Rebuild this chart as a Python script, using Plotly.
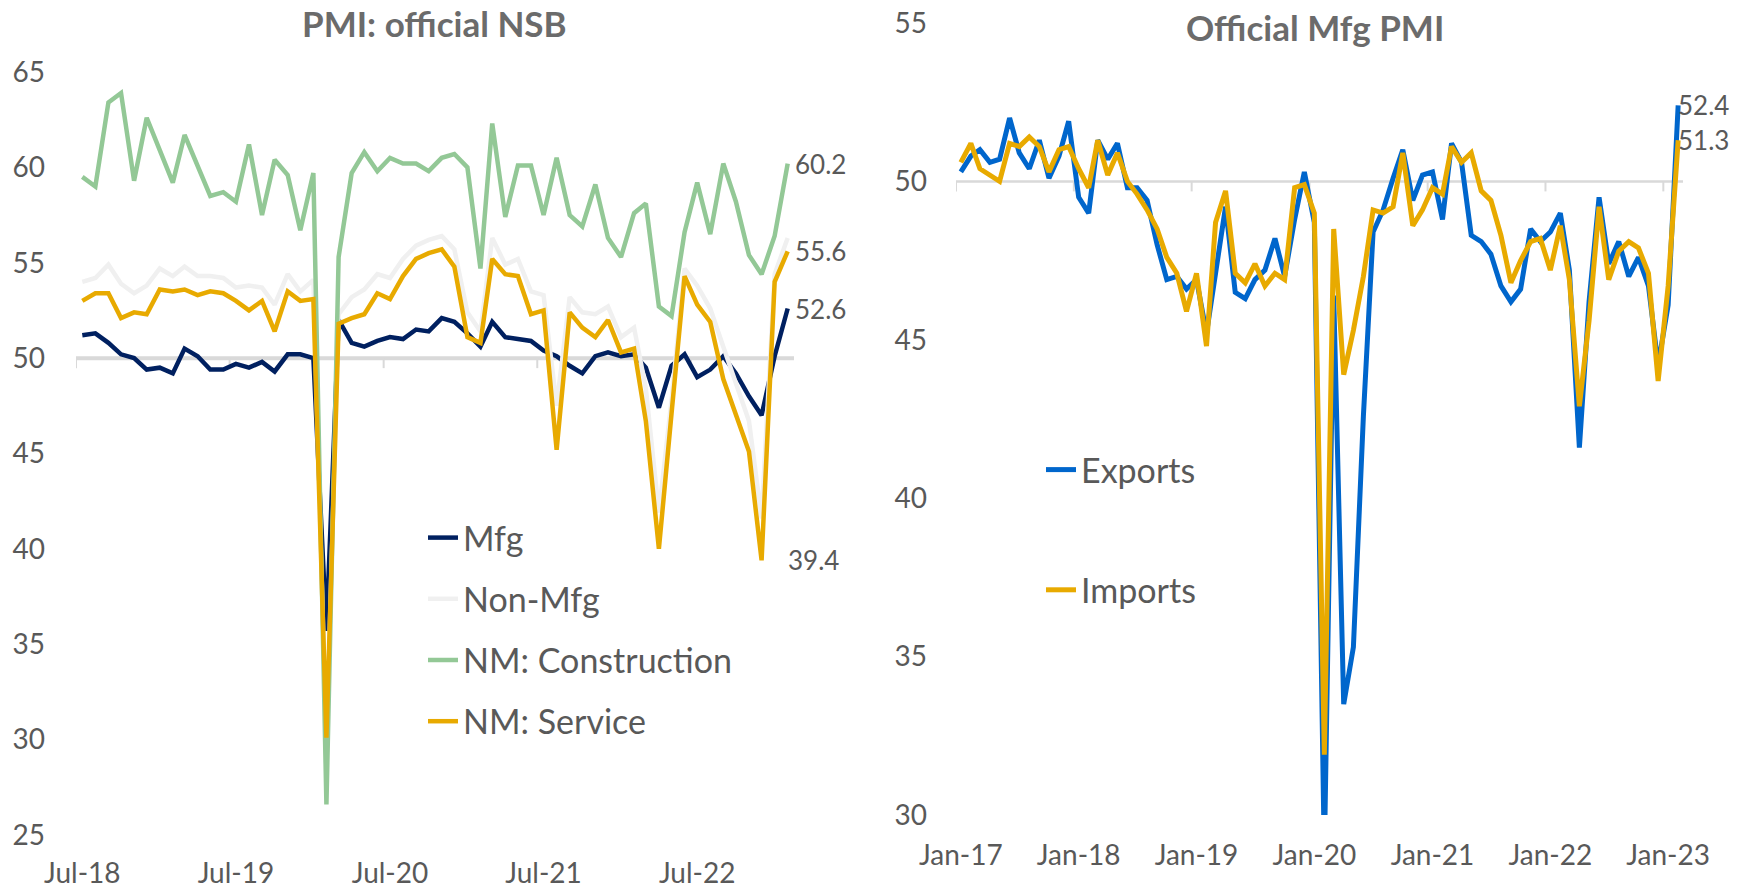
import pandas as pd
import plotly.graph_objects as go

# ---------------- data: left chart (Jul-18 .. Feb-23) ----------------
left_start, left_end = "2018-07-01", "2023-02-01"
mfg = [51.2, 51.3, 50.8, 50.2, 50.0, 49.4,
       49.5, 49.2, 50.5, 50.1, 49.4, 49.4, 49.7, 49.5, 49.8, 49.3, 50.2, 50.2,
       50.0, 35.7, 52.0, 50.8, 50.6, 50.9, 51.1, 51.0, 51.5, 51.4, 52.1, 51.9,
       51.3, 50.6, 51.9, 51.1, 51.0, 50.9, 50.4, 50.1, 49.6, 49.2, 50.1, 50.3,
       50.1, 50.2, 49.5, 47.4, 49.6, 50.2, 49.0, 49.4, 50.1, 49.2, 48.0, 47.0,
       50.1, 52.6]
non_mfg = [54.0, 54.2, 54.9, 53.9, 53.4, 53.8,
           54.7, 54.3, 54.8, 54.3, 54.3, 54.2, 53.7, 53.8, 53.7, 52.8, 54.4, 53.5,
           54.1, 29.6, 52.3, 53.2, 53.6, 54.4, 54.2, 55.2, 55.9, 56.2, 56.4, 55.7,
           52.4, 51.4, 56.3, 54.9, 55.2, 53.5, 53.3, 47.5, 53.2, 52.4, 52.3, 52.7,
           51.1, 51.6, 48.4, 41.9, 47.8, 54.7, 53.8, 52.6, 50.6, 48.7, 46.7, 41.6,
           54.4, 56.3]
construction = [59.5, 59.0, 63.4, 63.9, 59.3, 62.6,
                60.9, 59.2, 61.7, 60.1, 58.5, 58.7, 58.2, 61.2, 57.5, 60.4, 59.6, 56.7,
                59.7, 26.6, 55.3, 59.7, 60.8, 59.8, 60.5, 60.2, 60.2, 59.8, 60.5, 60.7,
                60.0, 54.7, 62.3, 57.4, 60.1, 60.1, 57.5, 60.5, 57.5, 56.9, 59.1, 56.3,
                55.3, 57.6, 58.1, 52.7, 52.2, 56.6, 59.2, 56.5, 60.2, 58.2, 55.4, 54.4,
                56.4, 60.2]
service = [53.0, 53.4, 53.4, 52.1, 52.4, 52.3,
           53.6, 53.5, 53.6, 53.3, 53.5, 53.4, 53.0, 52.5, 53.0, 51.4, 53.5, 53.0,
           53.1, 30.1, 51.8, 52.1, 52.3, 53.4, 53.1, 54.3, 55.2, 55.5, 55.7, 54.8,
           51.1, 50.8, 55.2, 54.4, 54.3, 52.3, 52.5, 45.2, 52.4, 51.6, 51.1, 52.0,
           50.3, 50.5, 46.7, 40.0, 47.1, 54.3, 52.8, 51.9, 48.9, 47.0, 45.1, 39.4,
           54.0, 55.6]
left_names = ["Mfg", "Non-Mfg", "NM: Construction", "NM: Service"]
left_colors = ["#002060", "#F0F0F0", "#93C896", "#E8AA00"]

# ---------------- data: right chart (Jan-17 .. Feb-23) ----------------
right_start, right_end = "2017-01-01", "2023-02-01"
exports = [50.3, 50.8, 51.0, 50.6, 50.7, 52.0, 50.9, 50.4, 51.3, 50.1, 50.8, 51.9,
           49.5, 49.0, 51.3, 50.7, 51.2, 49.8, 49.8, 49.4, 48.0, 46.9, 47.0, 46.6,
           46.9, 45.2, 47.1, 49.2, 46.5, 46.3, 46.9, 47.2, 48.2, 47.0, 48.8, 50.3,
           48.7, 28.7, 46.4, 33.5, 35.3, 42.6, 48.4, 49.1, 50.1, 51.0, 49.4, 50.2,
           50.3, 48.8, 51.2, 50.6, 48.3, 48.1, 47.7, 46.7, 46.2, 46.6, 48.5, 48.1,
           48.4, 49.0, 47.2, 41.6, 46.2, 49.5, 47.4, 48.1, 47.0, 47.6, 46.7, 44.2,
           46.1, 52.4]
imports = [50.6, 51.2, 50.4, 50.2, 50.0, 51.2, 51.1, 51.4, 51.1, 50.3, 51.0, 51.1,
           50.4, 49.8, 51.3, 50.2, 50.9, 50.0, 49.6, 49.1, 48.5, 47.6, 47.1, 45.9,
           47.1, 44.8, 48.7, 49.7, 47.1, 46.8, 47.4, 46.7, 47.1, 46.9, 49.8, 49.9,
           49.0, 31.9, 48.5, 43.9, 45.3, 47.0, 49.1, 49.0, 49.2, 50.9, 48.6, 49.1,
           49.8, 49.6, 51.1, 50.6, 50.9, 49.7, 49.4, 48.3, 46.8, 47.5, 48.1, 48.2,
           47.2, 48.6, 46.9, 42.9, 45.6, 49.2, 46.9, 47.8, 48.1, 47.9, 47.1, 43.7,
           46.7, 51.3]
right_names = ["Exports", "Imports"]
right_colors = ["#0066CC", "#E8AA00"]

left_titles = "PMI: official NSB"
right_titles = "Official Mfg PMI"

FONT = "Lato, Carlito, Calibri, sans-serif"
GREY = "#595959"
W, H = 1737, 891

left_x = pd.date_range(left_start, left_end, freq="MS")
right_x = pd.date_range(right_start, right_end, freq="MS")
half = pd.Timedelta(days=15)

fig = go.Figure()
for i, (name, vals, col) in enumerate(zip(left_names, [mfg, non_mfg, construction, service], left_colors)):
    fig.add_trace(go.Scatter(x=left_x, y=vals, name=name, mode="lines",
                             line=dict(color=col, width=4.5), legendgroup=f"l{i}",
                             xaxis="x", yaxis="y", legend="legend"))
for i, (name, vals, col) in enumerate(zip(right_names, [exports, imports], right_colors)):
    fig.add_trace(go.Scatter(x=right_x, y=vals, name=name, mode="lines",
                             line=dict(color=col, width=5), legendgroup=f"r{i}",
                             xaxis="x2", yaxis="y2", legend="legend2"))


def px_x(p):
    return p / W


def px_y(p):
    return (H - p) / H


xtick_font = dict(family=FONT, size=28, color=GREY)
ytick_font = dict(family=FONT, size=28, color=GREY)
axis_common = dict(showgrid=False, zeroline=False, showline=False, ticks="", automargin=False)

fig.update_layout(
    width=W, height=H, margin=dict(l=0, r=0, t=0, b=0, autoexpand=False),
    paper_bgcolor="white", plot_bgcolor="white",
    font=dict(family=FONT, color=GREY),
    xaxis=dict(domain=[px_x(76), px_x(794)], type="date",
               range=[left_x[0] - half, left_x[-1] + half],
               tick0=left_start, dtick="M12", tickformat="%b-%y",
               ticklabelstandoff=19, anchor="y", tickfont=xtick_font, **axis_common),
    yaxis=dict(domain=[px_y(835), px_y(72)], range=[25, 65], dtick=5,
               ticklabelstandoff=30, anchor="x", tickfont=ytick_font, **axis_common),
    xaxis2=dict(domain=[px_x(956), px_x(1683)], type="date",
                range=[right_x[0] - half, right_x[-1] + half],
                tick0=right_start, dtick="M12", tickformat="%b-%y",
                ticklabelstandoff=21, anchor="y2", tickfont=xtick_font, **axis_common),
    yaxis2=dict(domain=[px_y(815), px_y(23)], range=[30, 55], dtick=5,
                ticklabelstandoff=28, anchor="x2", tickfont=ytick_font, **axis_common),
    legend=dict(x=px_x(423), xanchor="left", y=px_y(509), yanchor="top",
                font=dict(family=FONT, size=34, color=GREY), bgcolor="rgba(0,0,0,0)",
                traceorder="grouped", tracegroupgap=14),
    legend2=dict(x=px_x(1041), xanchor="left", y=px_y(441), yanchor="top",
                 font=dict(family=FONT, size=34, color=GREY), bgcolor="rgba(0,0,0,0)",
                 traceorder="grouped", tracegroupgap=73),
)

# horizontal axis lines crossing at 50, with year tick marks
shapes = []
for xr, yr, xs, start_month, w in [("x", "y", left_x, 7, 4), ("x2", "y2", right_x, 1, 2.5)]:
    shapes.append(dict(type="line", xref=f"{xr} domain", yref=yr, x0=0, x1=1, y0=50, y1=50,
                       line=dict(color="#D9D9D9", width=w), layer="below"))
    for d in xs:
        if d.month == start_month:
            shapes.append(dict(type="line", xref=xr, yref=yr, ysizemode="pixel", yanchor=50,
                               x0=d - half, x1=d - half, y0=0, y1=-10,
                               line=dict(color="#D9D9D9", width=2), layer="below"))
fig.update_layout(shapes=shapes)

title_font = dict(family=FONT, size=35, color="#6B6B6B")
ann = [
    dict(text=f"<b>{left_titles}</b>", xref="paper", yref="paper", x=px_x(434), y=px_y(23),
         xanchor="center", yanchor="middle", showarrow=False, font=title_font),
    dict(text=f"<b>{right_titles}</b>", xref="paper", yref="paper", x=px_x(1315), y=px_y(27),
         xanchor="center", yanchor="middle", showarrow=False, font=title_font),
]
lab_font = dict(family=FONT, size=26, color=GREY)
for vals in [construction, service, mfg]:
    ann.append(dict(text=f"{vals[-1]:.1f}", x=left_x[-1], y=vals[-1], xref="x", yref="y",
                    xanchor="left", yanchor="middle", xshift=5, showarrow=False, font=lab_font))
# label the recent (Dec-22) trough of the services index
recent = service[-14:]
low_i = len(service) - 14 + recent.index(min(recent))
ann.append(dict(text=f"{service[low_i]:.1f}", x=left_x[low_i], y=service[low_i], xref="x", yref="y",
                xanchor="left", yanchor="middle", xshift=24, showarrow=False, font=lab_font))
for vals in [exports, imports]:
    ann.append(dict(text=f"{vals[-1]:.1f}", x=right_x[-1], y=vals[-1], xref="x2", yref="y2",
                    xanchor="left", yanchor="middle", xshift=-2, showarrow=False, font=lab_font))
fig.update_layout(annotations=ann)

# remove the browser's default 8px body margin so the figure sits at the page origin
fig.write_html("out.html", config={"displayModeBar": False}, post_script=(
    "document.body.style.margin='0px';document.body.style.padding='0px';"
    "document.body.style.overflow='hidden';"))
